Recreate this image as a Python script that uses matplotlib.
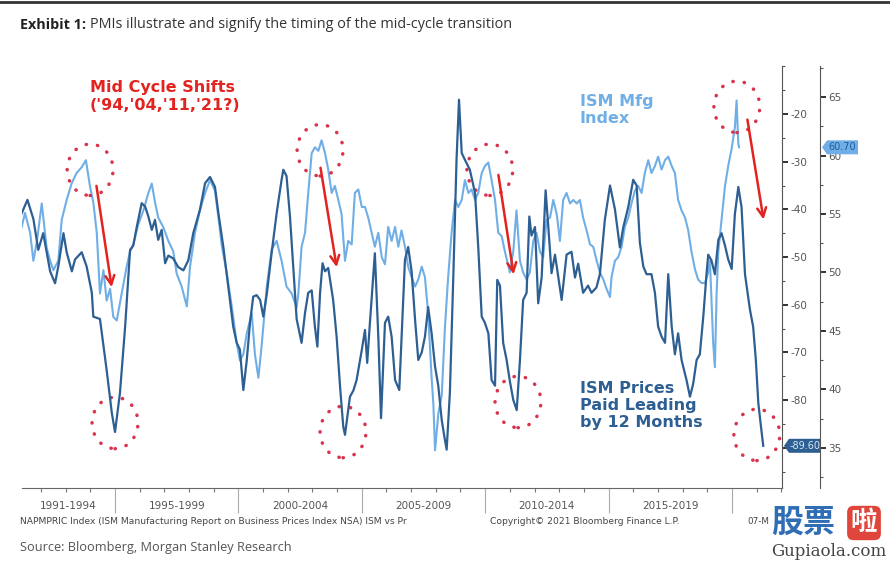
import matplotlib as mpl
mpl.use('Agg')
import matplotlib.pyplot as plt
from matplotlib.patches import Ellipse, Polygon
from matplotlib.ticker import MultipleLocator, FixedLocator
import matplotlib.transforms as mtransforms

# ISM prices paid (NAPMPRIC), plotted inverted on the inner right axis
prices_pts = [
    (1991.22, 40.8), (1991.45, 38.0), (1991.69, 42.0), (1991.89, 48.5), (1992.09, 45.0),
    (1992.37, 53.0), (1992.57, 55.5), (1992.70, 52.0), (1992.91, 45.0), (1993.04, 49.0),
    (1993.25, 53.0), (1993.38, 50.5), (1993.65, 49.0), (1993.85, 52.0), (1994.06, 57.5),
    (1994.12, 62.5), (1994.39, 63.0), (1994.66, 73.7), (1994.87, 82.7), (1995.00, 86.7),
    (1995.20, 78.5), (1995.41, 64.6), (1995.61, 48.5), (1995.74, 47.6), (1995.88, 43.7),
    (1996.08, 38.7), (1996.22, 39.4), (1996.35, 41.5), (1996.49, 44.3), (1996.62, 42.2),
    (1996.75, 46.4), (1996.89, 44.3), (1997.03, 51.3), (1997.16, 49.7), (1997.36, 50.3),
    (1997.56, 52.1), (1997.77, 52.8), (1997.97, 50.7), (1998.17, 45.0), (1998.44, 40.1),
    (1998.65, 34.5), (1998.85, 33.2), (1999.05, 35.3), (1999.19, 40.8), (1999.39, 47.9),
    (1999.59, 56.2), (1999.79, 64.6), (1999.93, 68.0), (2000.06, 69.4), (2000.20, 77.9),
    (2000.34, 71.6), (2000.47, 63.8), (2000.60, 58.3), (2000.74, 58.0), (2000.88, 59.0),
    (2001.01, 62.5), (2001.15, 57.8), (2001.35, 49.0), (2001.55, 40.8), (2001.75, 33.8),
    (2001.82, 31.7), (2001.95, 33.0), (2002.09, 41.5), (2002.22, 52.0), (2002.36, 63.0),
    (2002.56, 68.0), (2002.70, 61.7), (2002.83, 57.5), (2002.97, 57.0), (2003.10, 64.6),
    (2003.20, 68.8), (2003.31, 57.5), (2003.41, 51.3), (2003.51, 53.0), (2003.64, 52.3),
    (2003.84, 59.0), (2003.98, 66.7), (2004.12, 77.2), (2004.25, 85.6), (2004.32, 87.3),
    (2004.52, 79.3), (2004.66, 78.0), (2004.79, 75.8), (2005.00, 69.5), (2005.13, 65.3),
    (2005.22, 72.2), (2005.33, 63.8), (2005.53, 49.2), (2005.67, 66.7), (2005.78, 83.8),
    (2005.94, 63.8), (2006.07, 62.5), (2006.21, 66.7), (2006.35, 75.8), (2006.52, 77.9),
    (2006.62, 66.0), (2006.75, 50.6), (2006.88, 47.9), (2007.02, 53.0), (2007.16, 63.2),
    (2007.29, 71.6), (2007.43, 70.0), (2007.56, 66.7), (2007.69, 60.5), (2007.83, 66.0),
    (2007.97, 73.0), (2008.10, 77.0), (2008.24, 84.2), (2008.37, 88.4), (2008.44, 90.4),
    (2008.57, 78.5), (2008.71, 54.0), (2008.84, 29.6), (2008.94, 17.0), (2009.05, 28.2),
    (2009.18, 29.6), (2009.38, 31.7), (2009.59, 36.6), (2009.72, 47.9), (2009.86, 62.5),
    (2009.99, 63.8), (2010.13, 66.0), (2010.26, 75.8), (2010.40, 77.0), (2010.49, 54.8),
    (2010.60, 56.0), (2010.73, 68.0), (2010.87, 71.6), (2011.00, 76.0), (2011.14, 80.0),
    (2011.28, 82.1), (2011.41, 71.6), (2011.54, 59.0), (2011.68, 57.5), (2011.79, 41.5),
    (2011.88, 45.5), (2012.02, 43.7), (2012.15, 59.7), (2012.29, 54.3), (2012.45, 36.0),
    (2012.56, 43.7), (2012.69, 53.4), (2012.83, 49.5), (2013.10, 59.0), (2013.30, 49.5),
    (2013.50, 48.9), (2013.64, 54.3), (2013.77, 51.4), (2013.97, 57.5), (2014.17, 56.0),
    (2014.31, 57.5), (2014.51, 56.4), (2014.65, 53.6), (2014.85, 42.2), (2015.06, 35.0),
    (2015.26, 40.0), (2015.46, 48.0), (2015.60, 43.7), (2015.80, 39.5), (2016.00, 33.8),
    (2016.14, 35.0), (2016.27, 47.0), (2016.41, 52.0), (2016.54, 53.6), (2016.74, 53.6),
    (2016.88, 57.5), (2017.01, 64.6), (2017.15, 66.7), (2017.29, 68.0), (2017.42, 53.6),
    (2017.56, 64.6), (2017.69, 70.4), (2017.82, 66.0), (2017.96, 71.6), (2018.16, 75.8),
    (2018.30, 79.3), (2018.43, 76.6), (2018.57, 71.6), (2018.70, 70.4), (2018.84, 62.5),
    (2018.97, 53.6), (2019.04, 49.5), (2019.17, 50.7), (2019.31, 53.6), (2019.45, 46.4),
    (2019.58, 45.0), (2019.72, 47.6), (2019.85, 50.5), (2019.99, 52.5), (2020.12, 41.0),
    (2020.26, 35.3), (2020.39, 39.5), (2020.53, 53.6), (2020.73, 61.0), (2020.86, 64.6),
    (2020.97, 71.6), (2021.07, 80.6), (2021.16, 84.8), (2021.27, 89.6),
]

# ISM manufacturing index, shifted back 12 months (outer right axis)
ism_pts = [
    (1991.22, 53.9), (1991.35, 55.1), (1991.56, 53.4), (1991.69, 51.0), (1991.83, 52.6),
    (1992.03, 55.9), (1992.23, 52.1), (1992.37, 51.0), (1992.50, 50.2), (1992.70, 51.0),
    (1992.84, 54.5), (1993.04, 56.2), (1993.24, 57.6), (1993.44, 58.5), (1993.65, 59.0),
    (1993.82, 59.6), (1993.99, 57.3), (1994.12, 56.0), (1994.26, 53.4), (1994.39, 48.2),
    (1994.53, 50.2), (1994.66, 47.6), (1994.80, 48.6), (1994.93, 46.2), (1995.07, 45.9),
    (1995.27, 48.2), (1995.47, 50.5), (1995.61, 51.8), (1995.74, 52.4), (1995.94, 54.1),
    (1996.15, 55.3), (1996.35, 56.8), (1996.49, 57.6), (1996.62, 56.0), (1996.75, 54.7),
    (1996.95, 53.9), (1997.16, 52.7), (1997.36, 51.8), (1997.50, 49.9), (1997.70, 48.8),
    (1997.91, 47.1), (1998.04, 50.5), (1998.24, 53.4), (1998.44, 55.3), (1998.65, 56.8),
    (1998.85, 57.9), (1999.05, 57.0), (1999.19, 54.7), (1999.32, 52.4), (1999.53, 49.9),
    (1999.73, 47.1), (1999.93, 44.0), (2000.06, 42.5), (2000.20, 43.0), (2000.34, 44.8),
    (2000.54, 46.5), (2000.67, 43.0), (2000.81, 41.0), (2000.94, 43.7), (2001.15, 48.8),
    (2001.35, 52.0), (2001.55, 52.7), (2001.75, 51.0), (2001.95, 48.8), (2002.16, 48.2),
    (2002.36, 47.0), (2002.43, 48.2), (2002.56, 52.2), (2002.70, 53.4), (2002.83, 56.8),
    (2002.97, 60.2), (2003.10, 60.7), (2003.24, 60.4), (2003.37, 61.3), (2003.51, 60.2),
    (2003.64, 58.8), (2003.78, 56.8), (2003.91, 57.4), (2004.05, 56.2), (2004.18, 55.0),
    (2004.32, 51.0), (2004.45, 52.7), (2004.59, 52.4), (2004.72, 56.8), (2004.86, 57.1),
    (2005.00, 55.6), (2005.13, 55.6), (2005.26, 54.7), (2005.40, 53.4), (2005.53, 52.2),
    (2005.67, 53.4), (2005.81, 51.3), (2005.94, 50.7), (2006.07, 53.9), (2006.21, 52.7),
    (2006.35, 53.9), (2006.48, 52.2), (2006.61, 53.6), (2006.75, 52.2), (2006.88, 50.5),
    (2007.02, 49.6), (2007.16, 48.8), (2007.29, 49.4), (2007.43, 50.5), (2007.56, 49.6),
    (2007.69, 46.5), (2007.83, 41.0), (2007.90, 38.8), (2007.97, 34.8), (2008.10, 37.9),
    (2008.24, 39.5), (2008.37, 45.3), (2008.50, 49.6), (2008.64, 53.4), (2008.78, 56.2),
    (2008.91, 55.6), (2009.05, 56.2), (2009.18, 57.9), (2009.32, 56.8), (2009.45, 57.1),
    (2009.59, 56.2), (2009.72, 56.8), (2009.86, 58.5), (2009.99, 59.1), (2010.13, 59.4),
    (2010.26, 57.9), (2010.40, 56.2), (2010.53, 53.4), (2010.67, 53.1), (2010.80, 51.8),
    (2011.00, 50.0), (2011.14, 51.8), (2011.27, 55.3), (2011.41, 51.0), (2011.54, 50.0),
    (2011.68, 49.4), (2011.81, 50.0), (2011.95, 52.7), (2012.08, 53.4), (2012.22, 51.8),
    (2012.35, 51.3), (2012.49, 54.5), (2012.63, 54.7), (2012.76, 56.2), (2012.90, 55.0),
    (2013.03, 52.7), (2013.16, 56.2), (2013.30, 56.8), (2013.44, 55.9), (2013.57, 56.2),
    (2013.71, 55.9), (2013.84, 56.2), (2013.97, 54.7), (2014.11, 53.6), (2014.25, 52.4),
    (2014.38, 52.2), (2014.52, 51.0), (2014.65, 50.0), (2014.79, 49.4), (2014.92, 48.6),
    (2015.06, 47.9), (2015.12, 49.6), (2015.26, 51.0), (2015.39, 51.3), (2015.53, 52.2),
    (2015.66, 53.9), (2015.80, 54.7), (2015.93, 55.9), (2016.07, 57.0), (2016.20, 57.4),
    (2016.34, 56.8), (2016.47, 58.5), (2016.61, 59.6), (2016.74, 58.5), (2016.88, 59.1),
    (2017.01, 59.9), (2017.15, 58.8), (2017.29, 59.6), (2017.42, 59.9), (2017.56, 59.1),
    (2017.69, 58.5), (2017.82, 56.2), (2017.96, 55.3), (2018.10, 54.7), (2018.23, 53.6),
    (2018.36, 51.8), (2018.50, 50.3), (2018.63, 49.4), (2018.77, 49.1), (2018.91, 49.1),
    (2019.04, 50.0), (2019.11, 51.0), (2019.24, 44.0), (2019.31, 41.9), (2019.38, 48.2),
    (2019.45, 51.8), (2019.58, 54.5), (2019.72, 57.4), (2019.85, 59.1), (2019.99, 60.6),
    (2020.12, 62.4), (2020.19, 64.7), (2020.26, 61.0), (2020.29, 60.7),
]

period_labels = ['1991-1994', '1995-1999', '2000-2004', '2005-2009', '2010-2014', '2015-2019']
period_edges = [1991.23, 1995, 2000, 2005, 2010, 2015, 2020]

# dotted circles (year, inverted prices value) and arrows (start, end)
circles = [(1993.99, -31.7), (1995.0, -84.8), (2003.31, -27.6), (2004.24, -86.7),
           (2010.19, -31.7), (2011.33, -80.4), (2020.20, -18.5), (2021.01, -87.3)]
arrows = [((1994.23, -34.5), (1994.88, -56.9)), ((2003.31, -30.7), (2004.00, -52.7)),
          ((2010.52, -32.2), (2011.17, -54.2)), ((2020.61, -20.6), (2021.30, -42.7))]

DARK = '#2d5f93'
LIGHT = '#70aee6'
RED = '#e3231f'
DOT = '#d8344f'

W, H = 890, 563
fig = plt.figure(figsize=(W / 100, H / 100), dpi=100)
ax = fig.add_axes([22 / W, 1 - 488 / H, 760 / W, 422 / H])
ax2 = ax.twinx()
ax.set_zorder(ax2.get_zorder() + 1)
ax.patch.set_visible(False)

p_year = [p[0] for p in prices_pts]
p_val = [-p[1] for p in prices_pts]
i_year = [p[0] for p in ism_pts]
i_val = [p[1] for p in ism_pts]

ax2.plot(i_year, i_val, color=LIGHT, lw=1.5)
ax.plot(p_year, p_val, color=DARK, lw=1.6)

ax.set_xlim(1991.23, 2022.03)
ax.set_ylim(-98.45, -9.93)
ax2.set_ylim(31.58, 67.65)

for a in (ax, ax2):
    for s in ('left', 'top'):
        a.spines[s].set_visible(False)
    a.spines['right'].set_color('#555555')
ax2.spines['bottom'].set_visible(False)
ax.spines['bottom'].set_color('#666666')
ax2.spines['right'].set_position(('outward', 27.4))

ax.yaxis.tick_right()
inner_ticks = list(range(-90, -19, 10))
ax.set_yticks(inner_ticks)
ax.yaxis.set_minor_locator(MultipleLocator(5))
# the -90 label sits under the last-value tag
ax.set_yticklabels(['' if v == -90 else str(v) for v in inner_ticks])
ax2.set_yticks(range(35, 66, 5))
ax2.yaxis.set_minor_locator(MultipleLocator(2.5))
for a in (ax, ax2):
    a.tick_params(axis='y', which='major', direction='out', length=4, width=1.4,
                  color='#333333', labelcolor='#555555', labelsize=7.5, pad=2)
    a.tick_params(axis='y', which='minor', direction='out', length=2.5, width=0.8,
                  color='#555555')

ax.xaxis.set_major_locator(FixedLocator(period_edges[1:]))
ax.xaxis.set_minor_locator(MultipleLocator(1))
ax.tick_params(axis='x', which='major', length=18, width=0.8, color='#aaaaaa',
               labelbottom=False)
ax.tick_params(axis='x', which='minor', length=3, width=0.8, color='#777777')

xt = mtransforms.blended_transform_factory(ax.transData, ax.transAxes)
for lab, a0, a1 in zip(period_labels, period_edges[:-1], period_edges[1:]):
    ax.text((a0 + a1) / 2, -0.043, lab, transform=xt, ha='center', va='center',
            fontsize=7.5, color='#555555', family='DejaVu Sans')

# annotations
for cx, cy in circles:
    ax.add_patch(Ellipse((cx, cy), 1.86, 10.8, fill=False, ec=DOT, lw=2.5,
                         linestyle=(0, (0.1, 3.2)), capstyle='round', clip_on=False))
for (x0, y0), (x1, y1) in arrows:
    ax.annotate('', xy=(x1, y1), xytext=(x0, y0),
                arrowprops=dict(arrowstyle='->', color=RED, lw=1.8, mutation_scale=16))

ax.text(1993.99, -12.9, "Mid Cycle Shifts\n('94,'04,'11,'21?)", color=RED,
        fontsize=11.5, fontweight='bold', va='top', ha='left', linespacing=1.2)
ax.text(2013.84, -15.8, 'ISM Mfg\nIndex', color=LIGHT, fontsize=11.5,
        fontweight='bold', va='top', ha='left', linespacing=1.15)
ax.text(2013.84, -76.0, 'ISM Prices\nPaid Leading\nby 12 Months', color=DARK,
        fontsize=11.5, fontweight='bold', va='top', ha='left', linespacing=1.15)

# last-value tags on the right axes
fig.canvas.draw()


def value_tag(x0, x1, yc, text, face, tc):
    pts = [(x0, yc), (x0 + 5, yc + 7), (x1, yc + 7), (x1, yc - 7), (x0 + 5, yc - 7)]
    pts = [(px / W, py / H) for px, py in pts]
    fig.patches.append(Polygon(pts, closed=True, fc=face, ec='none',
                               transform=fig.transFigure, zorder=5))
    fig.text((x0 + 6) / W, yc / H, text, color=tc, fontsize=7, va='center',
             ha='left', zorder=6)


yp = ax.transData.transform((0, p_val[-1]))[1]
yi = ax2.transData.transform((0, i_val[-1]))[1]
value_tag(784, 820, yp, '%.2f' % p_val[-1], DARK, '#d6e6f7')
value_tag(822, 858, yi, '%.2f' % i_val[-1], LIGHT, '#1f5c9e')

# title, footer and source
fig.add_artist(plt.Line2D([0, 1], [1 - 1.5 / H, 1 - 1.5 / H], color='#333333', lw=2))
t1 = fig.text(20 / W, 1 - 25 / H, 'Exhibit 1:', fontsize=10.4, fontweight='bold',
              family='Open Sans', color='#222222', va='center')
fig.canvas.draw()
bb = t1.get_window_extent()
fig.text(bb.x1 / W + 0.004, 1 - 25 / H,
         'PMIs illustrate and signify the timing of the mid-cycle transition',
         fontsize=10.4, family='Open Sans', color='#333333', va='center')

fig.text(20 / W, 1 - 521 / H,
         'NAPMPRIC Index (ISM Manufacturing Report on Business Prices Index NSA) ISM vs Pr',
         fontsize=6.6, color='#444444', va='center')
fig.text(490 / W, 1 - 521 / H, 'Copyright\u00a9 2021 Bloomberg Finance L.P.',
         fontsize=6.6, color='#444444', va='center')
fig.text(747 / W, 1 - 522 / H, '07-M', fontsize=6.3, color='#444444', va='center')
fig.text(20 / W, 1 - 547 / H, 'Source: Bloomberg, Morgan Stanley Research',
         fontsize=9.2, family='Open Sans', color='#555555', va='center')

# site watermark
fig.text(771 / W, 1 - 523 / H, '股票', fontsize=23, fontweight='black', color='#2f6db5',
         family=['Noto Sans CJK SC'], va='center', ha='left', zorder=10)
fig.text(864 / W, 1 - 523 / H, '啦', fontsize=19, fontweight='bold', color='white',
         family=['Noto Sans CJK SC'], va='center', ha='center', zorder=10,
         bbox=dict(boxstyle='round,pad=0.14,rounding_size=0.25', fc='#e0453c', ec='none'))
fig.text(829 / W, 1 - 552 / H, 'Gupiaola.com', fontsize=12, color='#444444',
         family='DejaVu Serif', va='center', ha='center', zorder=10)

fig.savefig('out.png', dpi=100)
